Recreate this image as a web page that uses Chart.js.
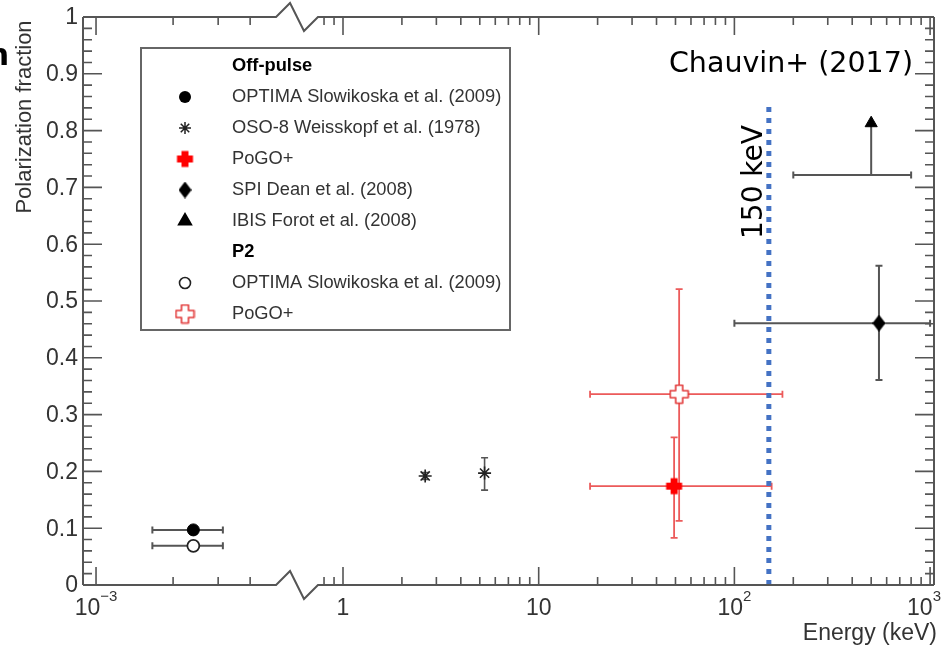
<!DOCTYPE html>
<html>
<head>
<meta charset="utf-8">
<script src="https://cdn.jsdelivr.net/npm/chart.js@4.4.1/dist/chart.umd.min.js"></script>
<style>
  html, body { margin: 0; padding: 0; background: #fff; }
  #wrap { width: 951px; height: 648px; position: relative; }
</style>
</head>
<body>
<div id="wrap"><canvas id="c"></canvas></div>
<script>
// energies in keV, values are polarization fraction
const optimaEnergy = [0.0024];
const optimaEnergyLo = [0.00166];
const optimaEnergyHi = [0.00313];
const optimaOffPulse = [0.097];
const optimaP2 = [0.069];

const osoEnergy = [2.63, 5.29];
const osoPF = [0.192, 0.197];
const osoPFLo = [0.186, 0.167];
const osoPFHi = [0.198, 0.224];

const pogoOffEnergy = [49.2];
const pogoOffEnergyLo = [18.3];
const pogoOffEnergyHi = [155];
const pogoOffPF = [0.174];
const pogoOffPFLo = [0.083];
const pogoOffPFHi = [0.26];

const pogoP2Energy = [52.2];
const pogoP2EnergyLo = [18.3];
const pogoP2EnergyHi = [176];
const pogoP2PF = [0.336];
const pogoP2PFLo = [0.113];
const pogoP2PFHi = [0.521];

const spiEnergy = [548];
const spiEnergyLo = [100];
const spiEnergyHi = [1000];
const spiPF = [0.461];
const spiPFLo = [0.361];
const spiPFHi = [0.562];

const ibisEnergy = [500];
const ibisEnergyLo = [200];
const ibisEnergyHi = [800];
const ibisPF = [0.722];
const ibisArrowTop = [0.813];

const cutEnergy = [150, 150];
const cutPF = [0, 0.85];

// axis ticks
const xMajorTicks = [0.001, 1, 10, 100, 1000];
const xMajorLabels = [['10', '\u22123'], ['1', ''], ['10', ''], ['10', '2'], ['10', '3']];
const xMinorTicks = [0.002, 0.003, 0.004, 0.8, 0.9, 2, 3, 4, 5, 6, 7, 8, 9,
  20, 30, 40, 50, 60, 70, 80, 90, 200, 300, 400, 500, 600, 700, 800, 900];
const yMajorTicks = [0, 0.1, 0.2, 0.3, 0.4, 0.5, 0.6, 0.7, 0.8, 0.9, 1];
const yMajorLabels = ['0', '0.1', '0.2', '0.3', '0.4', '0.5', '0.6', '0.7', '0.8', '0.9', '1'];

// broken log axis: left piece (1e-3..5e-3) is stretched, right piece is plain log10
const LEFT_ORIGIN = -1.262;
const LEFT_STRETCH = 1.308;
const BREAK_FROM = -0.342;
const BREAK_TO = -0.128;

function eToU(E) {
  const l = Math.log10(E);
  return l < -1.5 ? LEFT_ORIGIN + (l + 3) * LEFT_STRETCH : l;
}
function pts(energies, values) {
  return energies.map((e, i) => ({ x: eToU(e), y: values[i] }));
}

function makePlus(size, arm, fill, stroke, lw) {
  const c = document.createElement('canvas');
  c.width = size + 3; c.height = size + 3;
  const g = c.getContext('2d');
  const o = 1.5, s = size, a0 = (s - arm) / 2, a1 = a0 + arm;
  g.beginPath();
  g.moveTo(o + a0, o); g.lineTo(o + a1, o); g.lineTo(o + a1, o + a0); g.lineTo(o + s, o + a0);
  g.lineTo(o + s, o + a1); g.lineTo(o + a1, o + a1); g.lineTo(o + a1, o + s); g.lineTo(o + a0, o + s);
  g.lineTo(o + a0, o + a1); g.lineTo(o, o + a1); g.lineTo(o, o + a0); g.lineTo(o + a0, o + a0);
  g.closePath();
  if (fill) { g.fillStyle = fill; g.fill(); }
  if (stroke) { g.lineJoin = 'round'; g.strokeStyle = stroke; g.lineWidth = lw; g.stroke(); }
  return c;
}
function makeDiamond(w, h) {
  const c = document.createElement('canvas');
  c.width = w; c.height = h;
  const g = c.getContext('2d');
  g.beginPath();
  g.moveTo(w / 2, 0); g.lineTo(w, h / 2); g.lineTo(w / 2, h); g.lineTo(0, h / 2);
  g.closePath();
  g.fillStyle = '#000'; g.fill();
  return c;
}

const plusFilled = makePlus(16, 7, '#ff0000', null, 0);
const plusOpen = makePlus(18, 7, '#ffffff', '#e23a3a', 1.6);
const diamond = makeDiamond(13, 17);

const errorBars = [
  { color: '#555', w: 2, E: optimaEnergy, y: optimaOffPulse, eLo: optimaEnergyLo, eHi: optimaEnergyHi },
  { color: '#555', w: 2, E: optimaEnergy, y: optimaP2, eLo: optimaEnergyLo, eHi: optimaEnergyHi },
  { color: '#555', w: 1.6, E: osoEnergy, y: osoPF, yLo: osoPFLo, yHi: osoPFHi },
  { color: '#ec5a5a', w: 1.8, E: pogoP2Energy, y: pogoP2PF, eLo: pogoP2EnergyLo, eHi: pogoP2EnergyHi, yLo: pogoP2PFLo, yHi: pogoP2PFHi },
  { color: '#ec5a5a', w: 1.8, E: pogoOffEnergy, y: pogoOffPF, eLo: pogoOffEnergyLo, eHi: pogoOffEnergyHi, yLo: pogoOffPFLo, yHi: pogoOffPFHi },
  { color: '#555', w: 2, E: spiEnergy, y: spiPF, eLo: spiEnergyLo, eHi: spiEnergyHi, yLo: spiPFLo, yHi: spiPFHi },
  { color: '#555', w: 2, E: ibisEnergy, y: ibisPF, eLo: ibisEnergyLo, eHi: ibisEnergyHi, arrowTo: ibisArrowTop }
];

const errorBarPlugin = {
  id: 'errorBars',
  beforeDatasetsDraw(chart) {
    const ctx = chart.ctx, xs = chart.scales.x, ys = chart.scales.y;
    ctx.save();
    errorBars.forEach(b => {
      ctx.strokeStyle = b.color;
      ctx.lineWidth = b.w;
      b.E.forEach((e, i) => {
        const px = xs.getPixelForValue(eToU(e));
        const py = ys.getPixelForValue(b.y[i]);
        ctx.beginPath();
        if (b.eLo) {
          const x0 = xs.getPixelForValue(eToU(b.eLo[i]));
          const x1 = xs.getPixelForValue(eToU(b.eHi[i]));
          ctx.moveTo(x0, py); ctx.lineTo(x1, py);
          ctx.moveTo(x0, py - 3.5); ctx.lineTo(x0, py + 3.5);
          ctx.moveTo(x1, py - 3.5); ctx.lineTo(x1, py + 3.5);
        }
        if (b.yLo) {
          const y0 = ys.getPixelForValue(b.yLo[i]);
          const y1 = ys.getPixelForValue(b.yHi[i]);
          ctx.moveTo(px, y0); ctx.lineTo(px, y1);
          ctx.moveTo(px - 3.5, y0); ctx.lineTo(px + 3.5, y0);
          ctx.moveTo(px - 3.5, y1); ctx.lineTo(px + 3.5, y1);
        }
        if (b.arrowTo) {
          ctx.moveTo(px, py); ctx.lineTo(px, ys.getPixelForValue(b.arrowTo[i]));
        }
        ctx.stroke();
      });
    });
    ctx.restore();
  }
};

const FONT = '"Liberation Sans", Arial, sans-serif';

function drawLegendMarker(ctx, kind, x, y) {
  ctx.save();
  if (kind === 'dot') { ctx.fillStyle = '#000'; ctx.beginPath(); ctx.arc(x, y, 6, 0, Math.PI * 2); ctx.fill(); }
  if (kind === 'ring') { ctx.fillStyle = '#fff'; ctx.strokeStyle = '#222'; ctx.lineWidth = 1.6; ctx.beginPath(); ctx.arc(x, y, 5.5, 0, Math.PI * 2); ctx.fill(); ctx.stroke(); }
  if (kind === 'star') { ctx.strokeStyle = '#222'; ctx.lineWidth = 1.5; Chart.helpers.drawPoint(ctx, { pointStyle: 'star', radius: 6, rotation: 0, borderWidth: 1.5 }, x, y); }
  if (kind === 'tri') { ctx.fillStyle = '#000'; ctx.strokeStyle = '#000'; Chart.helpers.drawPoint(ctx, { pointStyle: 'triangle', radius: 7, rotation: 0, borderWidth: 1 }, x, y); }
  if (kind === 'plusF') ctx.drawImage(plusFilled, x - plusFilled.width / 2, y - plusFilled.height / 2);
  if (kind === 'plusO') ctx.drawImage(plusOpen, x - plusOpen.width / 2, y - plusOpen.height / 2);
  if (kind === 'diam') ctx.drawImage(diamond, x - diamond.width / 2, y - diamond.height / 2);
  ctx.restore();
}

const legendRows = [
  { text: 'Off-pulse', bold: true },
  { text: 'OPTIMA Slowikoska et al. (2009)', marker: 'dot' },
  { text: 'OSO-8 Weisskopf et al. (1978)', marker: 'star' },
  { text: 'PoGO+', marker: 'plusF' },
  { text: 'SPI Dean et al. (2008)', marker: 'diam' },
  { text: 'IBIS Forot et al. (2008)', marker: 'tri' },
  { text: 'P2', bold: true },
  { text: 'OPTIMA Slowikoska et al. (2009)', marker: 'ring' },
  { text: 'PoGO+', marker: 'plusO' }
];

const framePlugin = {
  id: 'frame',
  afterDraw(chart) {
    const ctx = chart.ctx, xs = chart.scales.x, ys = chart.scales.y;
    const a = chart.chartArea;
    const bx0 = xs.getPixelForValue(BREAK_FROM), bx1 = xs.getPixelForValue(BREAK_TO);
    const bw = (bx1 - bx0) / 3;
    ctx.save();
    ctx.strokeStyle = '#555';
    ctx.lineWidth = 2;
    ctx.lineJoin = 'miter';
    // frame with axis breaks
    ctx.beginPath();
    [a.bottom, a.top].forEach(yy => {
      ctx.moveTo(a.left, yy); ctx.lineTo(bx0, yy);
      ctx.lineTo(bx0 + bw, yy - 14); ctx.lineTo(bx0 + 2 * bw, yy + 14); ctx.lineTo(bx1, yy);
      ctx.lineTo(a.right, yy);
    });
    ctx.moveTo(a.left, a.top); ctx.lineTo(a.left, a.bottom);
    ctx.moveTo(a.right, a.top); ctx.lineTo(a.right, a.bottom);
    ctx.stroke();

    // ticks
    ctx.lineWidth = 1.6;
    ctx.beginPath();
    const xt = (E, len) => {
      const px = xs.getPixelForValue(eToU(E));
      ctx.moveTo(px, a.bottom); ctx.lineTo(px, a.bottom - len);
      ctx.moveTo(px, a.top); ctx.lineTo(px, a.top + len);
    };
    xMajorTicks.forEach(E => xt(E, 18));
    xMinorTicks.forEach(E => xt(E, 8));
    for (let k = 0; k <= 50; k++) {
      const v = k * 0.02;
      const py = ys.getPixelForValue(v);
      const len = k % 5 === 0 ? 19 : 9;
      ctx.moveTo(a.left, py); ctx.lineTo(a.left + len, py);
      ctx.moveTo(a.right, py); ctx.lineTo(a.right - len, py);
    }
    ctx.stroke();

    // y tick labels
    ctx.fillStyle = '#333';
    ctx.font = '23px ' + FONT;
    ctx.textAlign = 'right';
    ctx.textBaseline = 'middle';
    yMajorTicks.forEach((v, i) => {
      ctx.fillText(yMajorLabels[i], a.left - 5, ys.getPixelForValue(v) + 1);
    });

    // x tick labels (with superscripts)
    ctx.textAlign = 'left';
    xMajorTicks.forEach((E, i) => {
      const [base, sup] = xMajorLabels[i];
      ctx.font = '23px ' + FONT;
      const wb = ctx.measureText(base).width;
      ctx.font = '15px ' + FONT;
      const ws = sup ? ctx.measureText(sup).width : 0;
      let x0 = xs.getPixelForValue(eToU(E)) - (wb + ws) / 2;
      if (x0 + wb + ws > 941) x0 = 941 - wb - ws;
      ctx.font = '23px ' + FONT;
      ctx.fillText(base, x0, a.bottom + 24);
      if (sup) { ctx.font = '15px ' + FONT; ctx.fillText(sup, x0 + wb, a.bottom + 12); }
    });

    // axis titles
    ctx.font = '23px ' + FONT;
    ctx.textAlign = 'right';
    ctx.fillText('Energy (keV)', 937, 634);
    ctx.save();
    ctx.translate(25, 117);
    ctx.rotate(-Math.PI / 2);
    ctx.textAlign = 'center';
    ctx.font = '22px ' + FONT;
    ctx.fillText('Polarization fraction', 0, 0);
    ctx.restore();

    // legend box
    const L = { x: 141, y: 48, w: 369, h: 282 };
    ctx.fillStyle = '#fff';
    ctx.fillRect(L.x, L.y, L.w, L.h);
    ctx.strokeStyle = '#666';
    ctx.lineWidth = 2;
    ctx.strokeRect(L.x, L.y, L.w, L.h);
    legendRows.forEach((r, i) => {
      const yy = 66 + i * 31;
      ctx.fillStyle = r.bold ? '#000' : '#333';
      ctx.font = (r.bold ? 'bold ' : '') + '18.3px ' + FONT;
      ctx.textAlign = 'left';
      ctx.fillText(r.text, 232, yy);
      if (r.marker) drawLegendMarker(ctx, r.marker, 185, yy);
    });

    // annotations
    ctx.fillStyle = '#000';
    ctx.font = '28.5px "Comic Sans MS", "DejaVu Sans", sans-serif';
    ctx.textAlign = 'right';
    ctx.fillText('Chauvin+ (2017)', 913, 65);
    ctx.save();
    ctx.translate(xs.getPixelForValue(eToU(150)) - 14, 182);
    ctx.rotate(-Math.PI / 2);
    ctx.textAlign = 'center';
    ctx.font = '28px "Comic Sans MS", "DejaVu Sans", sans-serif';
    ctx.fillText('150 keV', 0, 0);
    ctx.restore();
    ctx.font = 'bold 30px "DejaVu Sans", sans-serif';
    ctx.textAlign = 'right';
    ctx.fillText('n', 9, 57);
    ctx.restore();
  }
};

new Chart(document.getElementById('c'), {
  type: 'scatter',
  data: {
    datasets: [
      { label: 'OPTIMA off-pulse', data: pts(optimaEnergy, optimaOffPulse), pointStyle: 'circle', pointRadius: 6, backgroundColor: '#000', borderColor: '#000', borderWidth: 1 },
      { label: 'OPTIMA P2', data: pts(optimaEnergy, optimaP2), pointStyle: 'circle', pointRadius: 6, backgroundColor: '#fff', borderColor: '#222', borderWidth: 1.8 },
      { label: 'OSO-8', data: pts(osoEnergy, osoPF), pointStyle: 'star', pointRadius: 6.5, borderColor: '#222', borderWidth: 1.6 },
      { label: 'PoGO+ P2', data: pts(pogoP2Energy, pogoP2PF), pointStyle: plusOpen },
      { label: 'PoGO+ off-pulse', data: pts(pogoOffEnergy, pogoOffPF), pointStyle: plusFilled },
      { label: 'SPI', data: pts(spiEnergy, spiPF), pointStyle: diamond },
      { label: 'IBIS', data: pts(ibisEnergy, ibisArrowTop), pointStyle: 'triangle', pointRadius: 7, backgroundColor: '#000', borderColor: '#000', borderWidth: 1 },
      { type: 'line', label: '150 keV', data: pts(cutEnergy, cutPF), borderColor: '#4472c4', borderWidth: 5, borderDash: [5, 6], borderCapStyle: 'butt', pointRadius: 0, order: -1 }
    ]
  },
  options: {
    responsive: true,
    maintainAspectRatio: false,
    animation: false,
    layout: { padding: { left: 83, right: 17, top: 17, bottom: 63 } },
    plugins: { legend: { display: false }, tooltip: { enabled: false } },
    scales: {
      x: { type: 'linear', display: false, min: -1.3286, max: 3.02 },
      y: { type: 'linear', display: false, min: 0, max: 1 }
    }
  },
  plugins: [errorBarPlugin, framePlugin]
});
</script>
</body>
</html>
